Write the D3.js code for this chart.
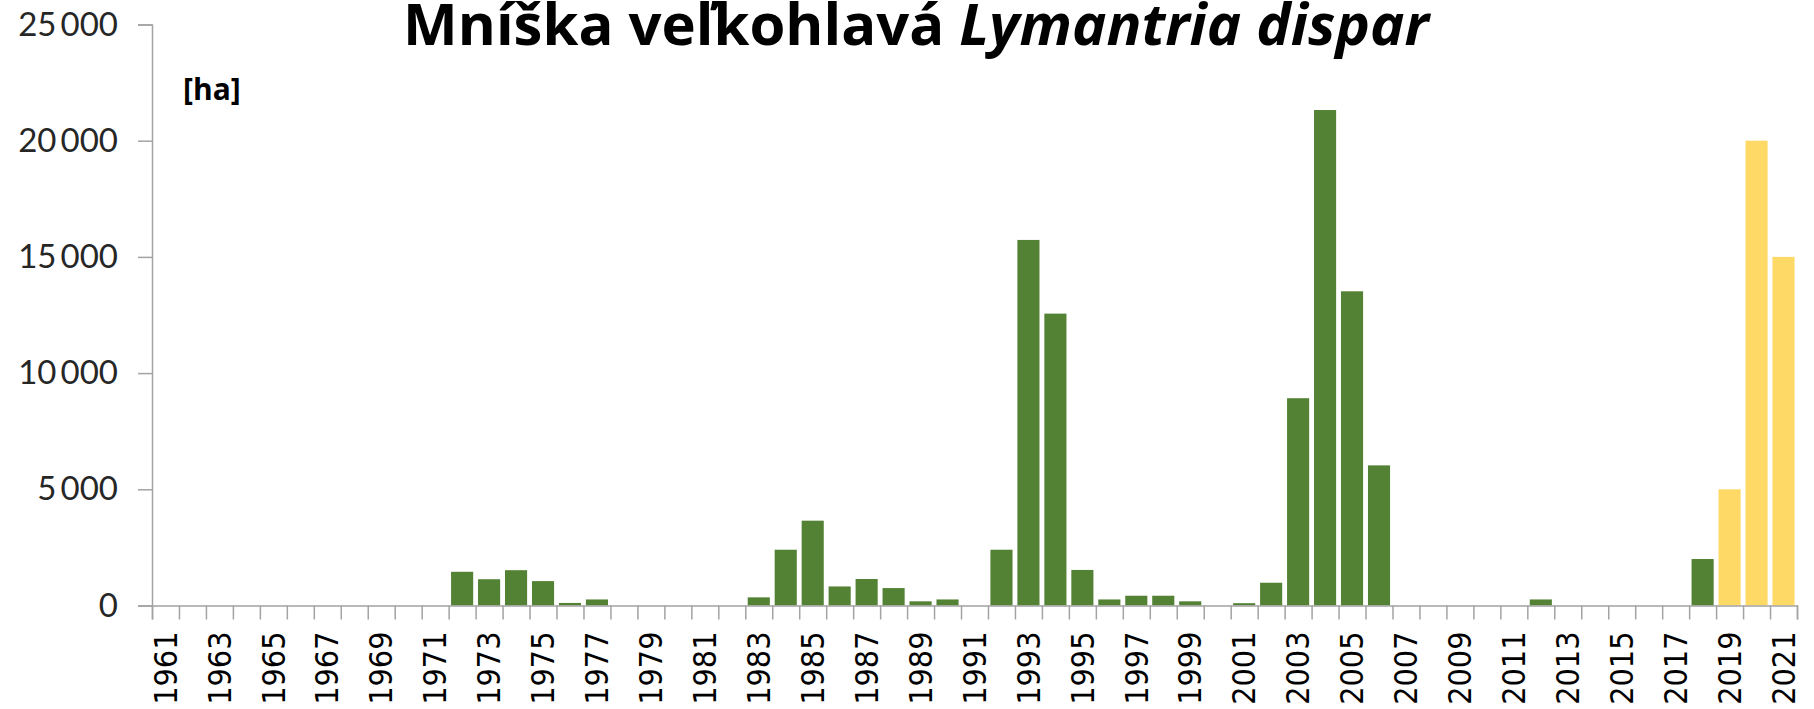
<!DOCTYPE html>
<html>
<head>
<meta charset="utf-8">
<script src="https://cdn.jsdelivr.net/npm/d3@7"></script>
<style>
  html, body { margin: 0; padding: 0; background: #fff; }
  svg { display: block; }
</style>
</head>
<body>
<div id="chart"></div>
<script>
// Years on the category axis
const years = d3.range(1961, 2022);

// Area damaged [ha], one value per year 1961..2021
const damage = [
  0, 0, 0, 0, 0, 0, 0, 0, 0, 0,          // 1961-1970
  0, 1450, 1130, 1520, 1050, 110, 260, 0, 0, 0,   // 1971-1980
  0, 0, 350, 2400, 3650, 820, 1140, 750, 180, 260, // 1981-1990
  0, 2400, 15730, 12560, 1530, 260, 420, 420, 180, 0, // 1991-2000
  100, 980, 8920, 21320, 13520, 6030, 0, 0, 0, 0,  // 2001-2010
  0, 260, 0, 0, 0, 0, 0, 2000, 5000, 20000,        // 2011-2020
  15000                                            // 2021
];

// Years drawn in yellow (estimate / forecast)
const forecastYears = [2019, 2020, 2021];

const yTicks = [0, 5000, 10000, 15000, 20000, 25000];
const labelYears = years.filter(y => y % 2 === 1);

const width = 1814;
const height = 709;
const left = 152;
const right = 1797;
const zeroY = 605.5;
const topY = 24.5;

const green = '#548235';
const yellow = '#ffd966';
const axisGrey = '#a3a3a3';

const rows = years.map((year, i) => ({ year: year, value: damage[i] }));

const svg = d3.select('#chart')
  .append('svg')
  .attr('width', width)
  .attr('height', height);

const x = d3.scaleBand()
  .domain(years)
  .range([left, right])
  .paddingInner(0.18)
  .paddingOuter(0.09);

// category boundaries for the tick marks (Excel puts them between bars)
const edges = d3.scaleLinear()
  .domain([0, years.length])
  .range([left, right]);

const y = d3.scaleLinear()
  .domain([0, 25000])
  .range([zeroY, topY]);

// Bars
svg.append('g')
  .selectAll('rect')
  .data(rows.filter(d => d.value > 0))
  .enter()
  .append('rect')
  .attr('x', d => x(d.year))
  .attr('width', x.bandwidth())
  .attr('y', d => y(d.value))
  .attr('height', d => zeroY - y(d.value))
  .attr('fill', d => forecastYears.includes(d.year) ? yellow : green);

// Y axis
const fmt = d => d3.format(',')(d).replace(',', '\u2009');
const yAxis = svg.append('g')
  .attr('transform', `translate(${left},0)`)
  .call(d3.axisLeft(y).tickValues(yTicks).tickSize(14).tickPadding(20).tickFormat(fmt));
yAxis.select('.domain').attr('stroke', axisGrey).attr('stroke-width', 1.5);
yAxis.selectAll('.tick line').attr('stroke', axisGrey).attr('stroke-width', 1.5);
yAxis.selectAll('.tick text')
  .attr('fill', '#262626')
  .style('font-family', 'Lato, "Open Sans", sans-serif')
  .style('font-size', '33px');

// X axis: boundary tick marks
const xEdges = svg.append('g')
  .attr('transform', `translate(0,${zeroY})`)
  .call(d3.axisBottom(edges).tickValues(d3.range(years.length + 1)).tickSize(14).tickFormat(''));
xEdges.select('.domain').attr('stroke', axisGrey).attr('stroke-width', 1.5);
xEdges.selectAll('.tick line').attr('stroke', axisGrey).attr('stroke-width', 1.5);

// X axis: year labels every other year, rotated
const xLabels = svg.append('g')
  .attr('transform', `translate(0,${zeroY})`)
  .call(d3.axisBottom(x).tickValues(labelYears).tickSize(0).tickPadding(0));
xLabels.select('.domain').remove();
xLabels.selectAll('.tick text')
  .attr('fill', '#000')
  .attr('transform', 'rotate(-90)')
  .attr('x', -26)
  .attr('y', 0)
  .attr('dy', '0.35em')
  .style('text-anchor', 'end')
  .style('font-family', '"DejaVu Sans Condensed", "DejaVu Sans", sans-serif')
  .style('font-size', '32px');

// Unit label
svg.append('text')
  .attr('x', 183)
  .attr('y', 100)
  .attr('fill', '#000')
  .style('font-family', '"Open Sans", Lato, sans-serif')
  .style('font-weight', 'bold')
  .style('font-size', '30px')
  .text('[ha]');

// Title (the top of the accents is cut by the frame, as in the original)
const title = svg.append('text')
  .attr('x', 916)
  .attr('y', 45)
  .attr('text-anchor', 'middle')
  .attr('fill', '#000')
  .style('font-family', '"Open Sans", Lato, sans-serif')
  .style('font-weight', 'bold')
  .style('font-size', '58px');
title.append('tspan').text('Mníška veľkohlavá ');
title.append('tspan').style('font-style', 'italic').text('Lymantria dispar');
</script>
</body>
</html>
